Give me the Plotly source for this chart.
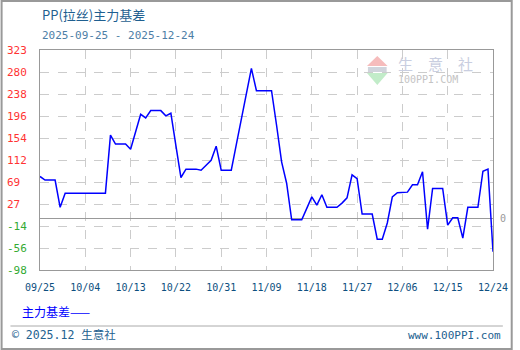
import pandas as pd
import plotly.graph_objects as go

# ---- data ----
start_date = "2025-09-25"
end_date = "2025-12-24"
dates = pd.date_range(start_date, end_date, freq="D")
basis = [81, 74, 74, 74, 22, 49, 49, 49, 49, 49, 49, 49, 49, 49,
         160, 143, 143, 143, 133, 166, 200, 193, 207, 207, 207, 197, 202, 140,
         79, 95, 95, 95, 93, 103, 112, 139, 93, 93, 93, 142, 191, 239,
         288, 245, 245, 245, 245, 179, 109, 68, -2, -2, -2, 20, 42, 26,
         46, 22, 22, 22, 30, 40, 84, 77, 9, 9, 9, -39, -39, -8,
         42, 50, 51, 51, 65, 65, 90, -20, 58, 58, 58, -12, 2, 2,
         -37, 22, 22, 22, 91, 95, -63]
y_min, y_max = -98, 323
y_tick_labels = ["323", "280", "238", "196", "154", "112", "69", "27", "-14", "-56", "-98"]
x_tick_labels = ["09/25", "10/04", "10/13", "10/22", "10/31", "11/09",
                 "11/18", "11/27", "12/06", "12/15", "12/24"]
series_name = "主力基差"
title = "PP(拉丝)主力基差"
subtitle = "2025-09-25 - 2025-12-24"

# ---- geometry helpers (pixel -> paper) ----
W, H = 520, 350
L, R, T, B = 40, 20, 50, 80
PW, PH = W - L - R, H - T - B
def px(x):
    return (x - L) / PW
def py(y):
    return (H - B - y) / PH

n_y = len(y_tick_labels)
y_step = (y_max - y_min) / (n_y - 1)
y_tickvals = [y_max - i * y_step for i in range(n_y)]
x_tickvals = [dates[0] + pd.Timedelta(days=9 * i) for i in range(len(x_tick_labels))]

fig = go.Figure()
fig.add_trace(go.Scatter(x=dates, y=basis, mode="lines",
                         line=dict(color="#0000ff", width=1.5),
                         name=series_name, showlegend=False))

mono = "DejaVu Sans Mono, Noto Sans CJK SC"
cjk = "Noto Sans CJK SC"

fig.update_layout(
    width=W, height=H,
    margin=dict(l=L, r=R, t=T, b=B),
    paper_bgcolor="white", plot_bgcolor="white",
    xaxis=dict(type="date", range=[dates[0], dates[-1]],
               tickvals=x_tickvals, ticktext=x_tick_labels,
               ticks="outside", ticklen=8, tickcolor="rgba(0,0,0,0)",
               tickfont=dict(family=mono, size=10, color="#0d4f80"),
               showgrid=True, gridcolor="#cccccc", griddash="dash", gridwidth=1,
               showline=True, linecolor="#999999", linewidth=1, mirror=True,
               zeroline=False, fixedrange=True),
    yaxis=dict(range=[y_min, y_max], tickvals=y_tickvals, showticklabels=False,
               showgrid=True, gridcolor="#cccccc", griddash="dash", gridwidth=1,
               showline=True, linecolor="#999999", linewidth=1, mirror=True,
               zeroline=True, zerolinecolor="#999999", zerolinewidth=1,
               fixedrange=True),
)

ann = []
for v, t in zip(y_tickvals, y_tick_labels):
    col = "#33aa33" if t.startswith("-") else "#ff3333"
    ann.append(dict(x=px(4), y=v, xref="paper", yref="y", text=t, showarrow=False,
                    xanchor="left", yanchor="middle",
                    font=dict(family=mono, size=11, color=col)))
ann.append(dict(x=px(505), y=0, xref="paper", yref="y", text="0", showarrow=False,
                xanchor="left", yanchor="middle",
                font=dict(family=mono, size=10, color="#999999")))
ann.append(dict(x=px(40), y=py(14), xref="paper", yref="paper", text=title,
                showarrow=False, xanchor="left", yanchor="middle",
                font=dict(family=cjk, size=13, color="#1f5f90")))
ann.append(dict(x=px(40), y=py(35), xref="paper", yref="paper", text=subtitle,
                showarrow=False, xanchor="left", yanchor="middle",
                font=dict(family=mono, size=11, color="#4d7ea6")))
ann.append(dict(x=px(20), y=py(311), xref="paper", yref="paper", text=series_name + "——",
                showarrow=False, xanchor="left", yanchor="middle",
                font=dict(family=cjk, size=12, color="#0000ff")))
ann.append(dict(x=px(10), y=py(335), xref="paper", yref="paper", text="© 2025.12 生意社",
                showarrow=False, xanchor="left", yanchor="middle",
                font=dict(family=mono, size=11.5, color="#23618f")))
ann.append(dict(x=px(510), y=py(335), xref="paper", yref="paper", text="www.100PPI.com",
                showarrow=False, xanchor="right", yanchor="middle",
                font=dict(family=mono, size=11, color="#23618f")))
# watermark
ann.append(dict(x=px(401), y=py(63), xref="paper", yref="paper",
                text="生\u2003意\u2003社",
                showarrow=False, xanchor="left", yanchor="middle",
                font=dict(family=cjk, size=15, color="#c9cee0")))
ann.append(dict(x=px(401), y=py(79), xref="paper", yref="paper", text="100PPI.COM",
                showarrow=False, xanchor="left", yanchor="middle",
                font=dict(family=mono, size=10, color="#c4c4c4")))

shapes = []
# outer frame
shapes.append(dict(type="rect", xref="paper", yref="paper",
                   x0=px(1), x1=px(519), y0=py(1), y1=py(349),
                   line=dict(color="#999999", width=2), fillcolor="rgba(0,0,0,0)", layer="above"))
# footer separator
shapes.append(dict(type="line", xref="paper", yref="paper",
                   x0=px(10), x1=px(510), y0=py(326), y1=py(326),
                   line=dict(color="#aaaaaa", width=1)))
# watermark logo triangles
shapes.append(dict(type="path", xref="paper", yref="paper",
                   path=f"M {px(372)},{py(66)} L {px(393)},{py(66)} L {px(382.5)},{py(56)} Z",
                   fillcolor="#f6bcbc", line=dict(width=0), layer="below"))
shapes.append(dict(type="path", xref="paper", yref="paper",
                   path=f"M {px(372)},{py(73)} L {px(393)},{py(73)} L {px(382.5)},{py(85)} Z",
                   fillcolor="#c2ecc9", line=dict(width=0), layer="below"))
shapes.append(dict(type="rect", xref="paper", yref="paper",
                   x0=px(373), x1=px(392), y0=py(72), y1=py(67),
                   fillcolor="#d0d4dc", line=dict(width=0), layer="below"))

fig.update_layout(annotations=ann, shapes=shapes)
fig.write_html("out.html")
